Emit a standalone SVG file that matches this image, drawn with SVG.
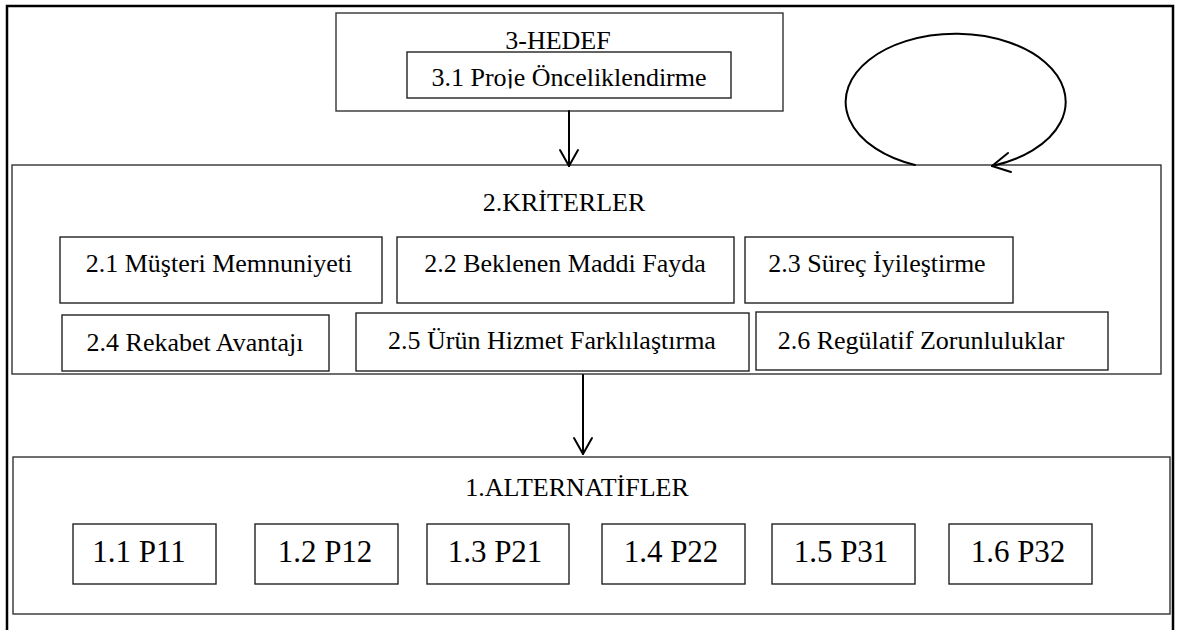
<svg xmlns="http://www.w3.org/2000/svg" width="1177" height="630" viewBox="0 0 1177 630">
  <style>
    .frame { fill: none; stroke: #000; stroke-width: 2.5; }
    .group { fill: #fff; stroke: #333; stroke-width: 1.4; }
    .box { fill: #fff; stroke: #222; stroke-width: 1.4; }
    .lbl { font-family: "Liberation Serif", "Times New Roman", serif; font-size: 26px; fill: #000; text-anchor: middle; }
    .alt { font-size: 31px; }
    .conn { fill: none; stroke: #000; stroke-width: 2; stroke-linecap: round; stroke-linejoin: round; }
  </style>
  <defs>
    <clipPath id="clip-goal-text">
      <rect x="407" y="52" width="324" height="36.5"/>
    </clipPath>
  </defs>

  <rect width="1177" height="630" fill="#fff"/>
  <path class="frame" d="M7,640 V6 H1173 V640"/>

  <!-- Goal level -->
  <g id="hedef">
    <rect class="group" x="336" y="13" width="447" height="98"/>
    <text class="lbl" x="558" y="49">3-HEDEF</text>
  </g>
  <g id="hedef-3-1">
    <rect class="box" x="407" y="52" width="324" height="46"/>
    <text class="lbl" x="569" y="86" clip-path="url(#clip-goal-text)">3.1 Proje Önceliklendirme</text>
  </g>

  <!-- Criteria level -->
  <g id="kriterler">
    <rect class="group" x="12" y="165" width="1149" height="209"/>
    <text class="lbl" x="564" y="211">2.KRİTERLER</text>
  </g>
  <g id="k-2-1">
    <rect class="box" x="60" y="237" width="322" height="66"/>
    <text class="lbl" x="219" y="272">2.1 Müşteri Memnuniyeti</text>
  </g>
  <g id="k-2-2">
    <rect class="box" x="397" y="237" width="337" height="66"/>
    <text class="lbl" x="565" y="272">2.2 Beklenen Maddi Fayda</text>
  </g>
  <g id="k-2-3">
    <rect class="box" x="745" y="237" width="268" height="66"/>
    <text class="lbl" x="877" y="272">2.3 Süreç İyileştirme</text>
  </g>
  <g id="k-2-4">
    <rect class="box" x="62" y="315" width="267" height="56"/>
    <text class="lbl" x="195" y="351">2.4 Rekabet Avantajı</text>
  </g>
  <g id="k-2-5">
    <rect class="box" x="356" y="313" width="393" height="58"/>
    <text class="lbl" x="552" y="348.5">2.5 Ürün Hizmet Farklılaştırma</text>
  </g>
  <g id="k-2-6">
    <rect class="box" x="756" y="312" width="352" height="58"/>
    <text class="lbl" x="921" y="348.5">2.6 Regülatif Zorunluluklar</text>
  </g>

  <!-- Alternatives level -->
  <g id="alternatifler">
    <rect class="group" x="13" y="457" width="1157" height="157"/>
    <text class="lbl" x="577" y="496">1.ALTERNATİFLER</text>
  </g>
  <g id="a-1-1">
    <rect class="box" x="73" y="524" width="143" height="60"/>
    <text class="lbl alt" x="139" y="562">1.1 P11</text>
  </g>
  <g id="a-1-2">
    <rect class="box" x="255" y="524" width="143" height="60"/>
    <text class="lbl alt" x="325" y="562">1.2 P12</text>
  </g>
  <g id="a-1-3">
    <rect class="box" x="427" y="524" width="142" height="60"/>
    <text class="lbl alt" x="495" y="562">1.3 P21</text>
  </g>
  <g id="a-1-4">
    <rect class="box" x="602" y="524" width="143" height="60"/>
    <text class="lbl alt" x="671" y="562">1.4 P22</text>
  </g>
  <g id="a-1-5">
    <rect class="box" x="772" y="524" width="143" height="60"/>
    <text class="lbl alt" x="841" y="562">1.5 P31</text>
  </g>
  <g id="a-1-6">
    <rect class="box" x="949" y="524" width="143" height="60"/>
    <text class="lbl alt" x="1018" y="562">1.6 P32</text>
  </g>

  <!-- Connectors -->
  <g id="connectors">
    <path class="conn" d="M569,111 V166"/>
    <path class="conn" d="M560,150 L569,166 L578,150"/>
    <path class="conn" d="M583,375 V454"/>
    <path class="conn" d="M574,438 L583,454 L592,438"/>
    <path class="conn" d="M915,165 A110,68 0 1 1 992,166"/>
    <path class="conn" d="M1008,153 L992,166 L1011,172"/>
  </g>
</svg>
